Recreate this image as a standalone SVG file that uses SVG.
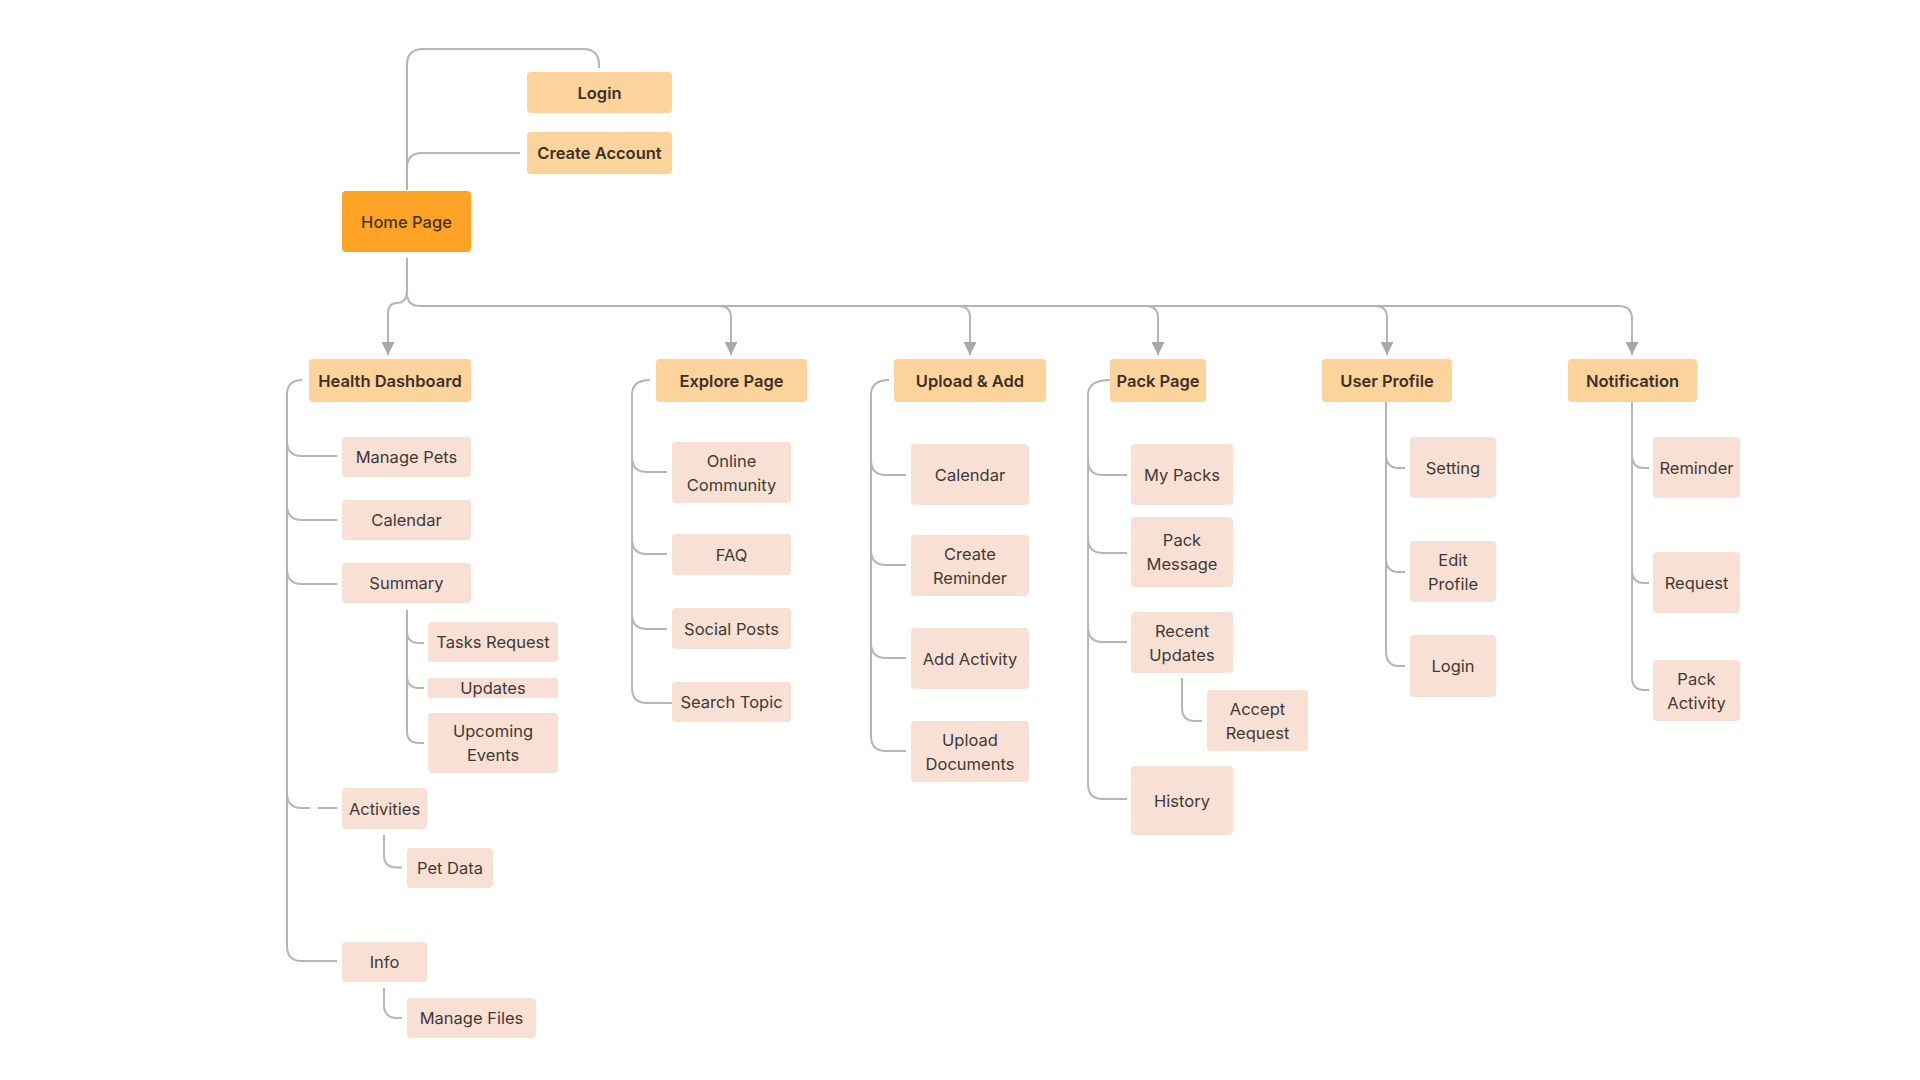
<svg xmlns="http://www.w3.org/2000/svg" width="1920" height="1080" viewBox="0 0 1920 1080">
<defs>
<style>
.top{fill:#FDD39C}
.child{fill:#F9E0D4}
.home{fill:#FFA326}
.t{font-family:Inter,"Noto Sans","Liberation Sans",sans-serif;text-anchor:middle;dominant-baseline:central}
.tb{font-size:16.5px;font-weight:600;fill:#3a3129}
.tc{font-size:16.5px;font-weight:400;fill:#3f3a36}
.th{font-size:16.5px;font-weight:500;fill:#4a3210}
.c path{fill:none;stroke:#B5B5B5;stroke-width:2}
</style>
<marker id="arr" viewBox="0 0 10 10" refX="10" refY="5" markerWidth="13" markerHeight="13" markerUnits="userSpaceOnUse" orient="auto">
<path d="M0,0 L10,5 L0,10 z" fill="#A8A8A8"/>
</marker>
</defs>
<rect width="1920" height="1080" fill="#FFFFFF"/>

<g id="connectors" class="c">
<path d="M407,190 V65 Q407,49 423,49 H583 Q599,49 599,65 V68"/>
<path d="M520,153 H422 Q407,153 407,168"/>
<path d="M407,258 V293 Q407,306 420,306 H1619 Q1632,306 1632,319 V355" marker-end="url(#arr)"/>
<path d="M407,290 Q407,303 397,303 Q388,303 388,314 V355" marker-end="url(#arr)"/>
<path d="M719,306 Q731,306 731,318 V355" marker-end="url(#arr)"/>
<path d="M958,306 Q970,306 970,318 V355" marker-end="url(#arr)"/>
<path d="M1146,306 Q1158,306 1158,318 V355" marker-end="url(#arr)"/>
<path d="M1375,306 Q1387,306 1387,318 V355" marker-end="url(#arr)"/>

<path d="M302,380 Q287,380 287,395 V946 Q287,961 302,961 H337"/>
<path d="M287,441 Q287,456 302,456 H337"/>
<path d="M287,505 Q287,520 302,520 H337"/>
<path d="M287,569 Q287,584 302,584 H337"/>
<path d="M287,793 Q287,808 302,808 H310 M318,808 H337"/>
<path d="M407,610 V731 Q407,743 419,743 H424"/>
<path d="M407,631 Q407,643 419,643 H424"/>
<path d="M407,676 Q407,688 419,688 H424"/>
<path d="M384,835 V855 Q384,867.5 397,867.5 H402"/>
<path d="M384,988 V1005 Q384,1018 397,1018 H402"/>

<path d="M650,380 Q632,380 632,395 V688 Q632,703 647,703 H672"/>
<path d="M632,457 Q632,472 647,472 H667"/>
<path d="M632,539 Q632,554 647,554 H667"/>
<path d="M632,614 Q632,629 647,629 H667"/>

<path d="M889,380 Q871,380 871,395 V736 Q871,751 886,751 H906"/>
<path d="M871,460 Q871,475 886,475 H906"/>
<path d="M871,550 Q871,565 886,565 H906"/>
<path d="M871,643 Q871,658 886,658 H906"/>

<path d="M1110,380 Q1088,380 1088,395 V784 Q1088,799 1103,799 H1127"/>
<path d="M1088,460 Q1088,475 1103,475 H1127"/>
<path d="M1088,538 Q1088,553 1103,553 H1127"/>
<path d="M1088,627 Q1088,642 1103,642 H1127"/>
<path d="M1182,678 V708 Q1182,721 1195,721 H1202"/>

<path d="M1386,402 V651 Q1386,666 1399,666 H1405"/>
<path d="M1386,455 Q1386,468 1399,468 H1405"/>
<path d="M1386,559 Q1386,572 1399,572 H1405"/>

<path d="M1632,402 V677 Q1632,690 1644,690 H1649"/>
<path d="M1632,455 Q1632,468 1644,468 H1649"/>
<path d="M1632,570 Q1632,583 1644,583 H1649"/>
</g>

<g id="login"><rect class="top" x="527" y="72" width="145" height="41" rx="4"/><text class="t tb" x="599.5" y="92.5">Login</text></g>
<g id="create-account"><rect class="top" x="527" y="132" width="145" height="42" rx="4"/><text class="t tb" x="599.5" y="153">Create Account</text></g>
<g id="home-page"><rect class="home" x="342" y="191" width="129" height="61" rx="4"/><text class="t th" x="406.5" y="221.5">Home Page</text></g>

<g id="health-dashboard"><rect class="top" x="309" y="359" width="162" height="43" rx="4"/><text class="t tb" x="390" y="380.5">Health Dashboard</text></g>
<g id="explore-page"><rect class="top" x="656" y="359" width="151" height="43" rx="4"/><text class="t tb" x="731.5" y="380.5">Explore Page</text></g>
<g id="upload-add"><rect class="top" x="894" y="359" width="152" height="43" rx="4"/><text class="t tb" x="970" y="380.5">Upload &amp; Add</text></g>
<g id="pack-page"><rect class="top" x="1110" y="359" width="96" height="43" rx="4"/><text class="t tb" x="1158" y="380.5">Pack Page</text></g>
<g id="user-profile"><rect class="top" x="1322" y="359" width="130" height="43" rx="4"/><text class="t tb" x="1387" y="380.5">User Profile</text></g>
<g id="notification"><rect class="top" x="1568" y="359" width="129" height="43" rx="4"/><text class="t tb" x="1632.5" y="380.5">Notification</text></g>

<g id="manage-pets"><rect class="child" x="342" y="437" width="129" height="40" rx="4"/><text class="t tc" x="406.5" y="457">Manage Pets</text></g>
<g id="hd-calendar"><rect class="child" x="342" y="500" width="129" height="40" rx="4"/><text class="t tc" x="406.5" y="520">Calendar</text></g>
<g id="summary"><rect class="child" x="342" y="563" width="129" height="40" rx="4"/><text class="t tc" x="406.5" y="583">Summary</text></g>
<g id="tasks-request"><rect class="child" x="428" y="622" width="130" height="40" rx="4"/><text class="t tc" x="493" y="642">Tasks Request</text></g>
<g id="updates"><rect class="child" x="428" y="678" width="130" height="20" rx="3"/><text class="t tc" x="493" y="688">Updates</text></g>
<g id="upcoming-events"><rect class="child" x="428" y="713" width="130" height="60" rx="4"/><text class="t tc" x="493" y="731">Upcoming</text><text class="t tc" x="493" y="755">Events</text></g>
<g id="activities"><rect class="child" x="342" y="788" width="85" height="41" rx="4"/><text class="t tc" x="384.5" y="808.5">Activities</text></g>
<g id="pet-data"><rect class="child" x="407" y="848" width="86" height="40" rx="4"/><text class="t tc" x="450" y="868">Pet Data</text></g>
<g id="info"><rect class="child" x="342" y="942" width="85" height="40" rx="4"/><text class="t tc" x="384.5" y="962">Info</text></g>
<g id="manage-files"><rect class="child" x="407" y="998" width="129" height="40" rx="4"/><text class="t tc" x="471.5" y="1018">Manage Files</text></g>

<g id="online-community"><rect class="child" x="672" y="442" width="119" height="61" rx="4"/><text class="t tc" x="731.5" y="461">Online</text><text class="t tc" x="731.5" y="485">Community</text></g>
<g id="faq"><rect class="child" x="672" y="534" width="119" height="41" rx="4"/><text class="t tc" x="731.5" y="554.5">FAQ</text></g>
<g id="social-posts"><rect class="child" x="672" y="608" width="119" height="41" rx="4"/><text class="t tc" x="731.5" y="628.5">Social Posts</text></g>
<g id="search-topic"><rect class="child" x="672" y="682" width="119" height="40" rx="4"/><text class="t tc" x="731.5" y="702">Search Topic</text></g>

<g id="ua-calendar"><rect class="child" x="911" y="444" width="118" height="61" rx="4"/><text class="t tc" x="970" y="474.5">Calendar</text></g>
<g id="create-reminder"><rect class="child" x="911" y="535" width="118" height="61" rx="4"/><text class="t tc" x="970" y="553.5">Create</text><text class="t tc" x="970" y="577.5">Reminder</text></g>
<g id="add-activity"><rect class="child" x="911" y="628" width="118" height="61" rx="4"/><text class="t tc" x="970" y="658.5">Add Activity</text></g>
<g id="upload-documents"><rect class="child" x="911" y="721" width="118" height="61" rx="4"/><text class="t tc" x="970" y="739.5">Upload</text><text class="t tc" x="970" y="763.5">Documents</text></g>

<g id="my-packs"><rect class="child" x="1131" y="444" width="102" height="61" rx="4"/><text class="t tc" x="1182" y="474.5">My Packs</text></g>
<g id="pack-message"><rect class="child" x="1131" y="517" width="102" height="70" rx="4"/><text class="t tc" x="1182" y="540">Pack</text><text class="t tc" x="1182" y="564">Message</text></g>
<g id="recent-updates"><rect class="child" x="1131" y="612" width="102" height="61" rx="4"/><text class="t tc" x="1182" y="630.5">Recent</text><text class="t tc" x="1182" y="654.5">Updates</text></g>
<g id="accept-request"><rect class="child" x="1207" y="690" width="101" height="61" rx="4"/><text class="t tc" x="1257.5" y="708.5">Accept</text><text class="t tc" x="1257.5" y="732.5">Request</text></g>
<g id="history"><rect class="child" x="1131" y="766" width="102" height="69" rx="4"/><text class="t tc" x="1182" y="800.5">History</text></g>

<g id="setting"><rect class="child" x="1410" y="437" width="86" height="61" rx="4"/><text class="t tc" x="1453" y="467.5">Setting</text></g>
<g id="edit-profile"><rect class="child" x="1410" y="541" width="86" height="61" rx="4"/><text class="t tc" x="1453" y="559.5">Edit</text><text class="t tc" x="1453" y="583.5">Profile</text></g>
<g id="up-login"><rect class="child" x="1410" y="635" width="86" height="62" rx="4"/><text class="t tc" x="1453" y="666">Login</text></g>

<g id="reminder"><rect class="child" x="1653" y="437" width="87" height="61" rx="4"/><text class="t tc" x="1696.5" y="467.5">Reminder</text></g>
<g id="request"><rect class="child" x="1653" y="552" width="87" height="61" rx="4"/><text class="t tc" x="1696.5" y="582.5">Request</text></g>
<g id="pack-activity"><rect class="child" x="1653" y="660" width="87" height="61" rx="4"/><text class="t tc" x="1696.5" y="678.5">Pack</text><text class="t tc" x="1696.5" y="702.5">Activity</text></g>
</svg>
